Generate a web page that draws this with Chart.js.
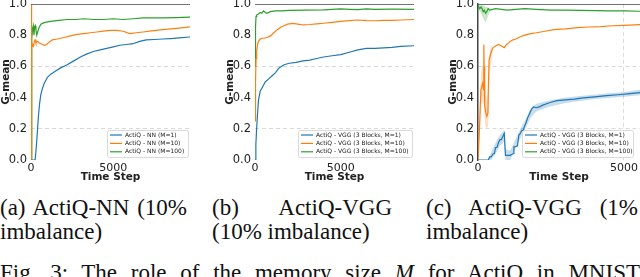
<!DOCTYPE html>
<html><head><meta charset="utf-8">
<script src="https://cdn.jsdelivr.net/npm/chart.js@4/dist/chart.umd.min.js"></script>
<style>
html,body{margin:0;padding:0;background:#fff;width:640px;height:277px;overflow:hidden;position:relative;}
.cv{position:absolute;}
.cap{position:absolute;font-family:"Liberation Serif","Times New Roman",serif;font-size:23px;line-height:24px;color:#111;text-align:justify;}
</style></head><body>
<div class="cv" style="left:0;top:-7px;width:195px;height:197px;"><canvas id="ca"></canvas></div>
<div class="cv" style="left:224px;top:-7px;width:195px;height:197px;"><canvas id="cb"></canvas></div>
<div class="cv" style="left:447px;top:-7px;width:193px;height:197px;"><canvas id="cc"></canvas></div>
<div class="cap" style="left:0;top:196px;width:187px;">(a) ActiQ-NN (10% imbalance)</div>
<div class="cap" style="left:212px;top:196px;width:180px;">(b) ActiQ-VGG (10% imbalance)</div>
<div class="cap" style="left:426px;top:196px;width:212px;">(c) ActiQ-VGG (1% imbalance)</div>
<div class="cap" style="left:0;top:261px;width:640px;white-space:nowrap;text-align:justify;text-align-last:justify;">Fig. 3: The role of the memory size <i>M</i> for ActiQ in MNIST</div>
<script>
// ---------- Panel (a): ActiQ-NN, 10% imbalance ----------
const aXmax = 9660;
const aBlueX = [0,250,320,400,450,520,600,700,800,1000,1200,1500,1800,2200,2600,3000,3400,3800,4200,4600,5000,5400,5800,6200,6600,7000,7500,8000,8500,9000,9660];
const aBlueY = [0,0,0.08,0.2,0.28,0.36,0.42,0.46,0.49,0.53,0.55,0.57,0.59,0.61,0.635,0.66,0.68,0.695,0.705,0.715,0.725,0.735,0.74,0.745,0.76,0.77,0.772,0.775,0.778,0.782,0.788];
const aOrangeX = [0,20,50,100,150,200,250,300,400,500,600,700,800,950,1100,1300,1600,2000,2400,2800,3200,3600,4000,4400,4800,5200,5600,6000,6400,6800,7200,7600,8000,8500,9000,9660];
const aOrangeY = [0,1.0,0.72,0.74,0.73,0.76,0.77,0.75,0.76,0.75,0.745,0.74,0.735,0.74,0.755,0.77,0.775,0.785,0.795,0.805,0.81,0.815,0.82,0.825,0.83,0.83,0.825,0.81,0.815,0.82,0.825,0.83,0.835,0.84,0.845,0.853];
const aGreenX = [0,30,60,100,140,180,220,260,300,350,400,500,600,700,800,1000,1300,1700,2200,2700,3200,3800,4400,5000,5600,6200,6800,7400,8000,8800,9660];
const aGreenY = [0,0.85,0.78,0.84,0.86,0.8,0.85,0.86,0.83,0.8,0.82,0.85,0.87,0.875,0.88,0.885,0.89,0.895,0.9,0.9,0.905,0.9,0.9,0.905,0.9,0.905,0.91,0.91,0.91,0.912,0.915];
const aLabels = ["ActiQ - NN (M=1)","ActiQ - NN (M=10)","ActiQ - NN (M=100)"];

// ---------- Panel (b): ActiQ-VGG, 10% imbalance ----------
const bXmax = 9277;
const bBlueX = [0,50,100,150,200,300,400,500,600,800,1000,1200,1400,1700,2000,2400,2800,3200,3600,4000,4500,5000,5500,6000,6500,7000,7500,8000,8500,9277];
const bBlueY = [0,0.1,0.21,0.3,0.38,0.44,0.46,0.48,0.5,0.52,0.54,0.56,0.59,0.61,0.62,0.625,0.635,0.64,0.65,0.66,0.668,0.675,0.69,0.705,0.715,0.715,0.718,0.722,0.728,0.732];
const bOrangeX = [0,30,60,100,150,200,300,400,500,700,900,1100,1300,1500,1700,1900,2200,2500,2800,3200,3600,4000,4500,5000,5500,6000,6500,7000,7500,8000,8500,9277];
const bOrangeY = [0.25,0.5,0.65,0.7,0.74,0.76,0.775,0.78,0.78,0.785,0.795,0.815,0.835,0.85,0.86,0.87,0.875,0.87,0.865,0.868,0.872,0.876,0.882,0.888,0.893,0.897,0.893,0.892,0.895,0.895,0.897,0.9];
const bGreenX = [0,30,60,100,200,300,400,500,600,700,900,1200,1600,2000,3000,4000,5000,5500,6000,6500,7000,8000,9277];
const bGreenY = [0.6,0.85,0.92,0.93,0.935,0.945,0.94,0.955,0.945,0.94,0.95,0.955,0.955,0.958,0.96,0.962,0.968,0.965,0.963,0.968,0.965,0.966,0.965];
const bLabels = ["ActiQ - VGG (3 Blocks, M=1)","ActiQ - VGG (3 Blocks, M=10)","ActiQ - VGG (3 Blocks, M=100)"];

// ---------- Panel (c): ActiQ-VGG, 1% imbalance ----------
const cXmax = 5550;
const cBlueX = [0,350,400,450,520,560,600,650,700,750,800,850,900,920,940,1000,1100,1200,1230,1280,1350,1400,1450,1500,1550,1600,1650,1700,1750,1800,1850,1900,2000,2100,2200,2350,2500,2700,3000,3300,3600,4000,4400,4800,5200,5550];
const cBlueY = [0,0,0.02,0.02,0.04,0.04,0.08,0.08,0.11,0.13,0.13,0.15,0.17,0.17,0.03,0.03,0.03,0.04,0.085,0.085,0.09,0.16,0.17,0.19,0.19,0.22,0.24,0.27,0.29,0.31,0.33,0.34,0.335,0.34,0.35,0.36,0.37,0.38,0.385,0.39,0.398,0.405,0.412,0.418,0.425,0.432];
const cBlueBandX = [350,450,600,750,900,940,1100,1230,1400,1600,1800,2000,2400,3000,4000,5000,5550];
const cBlueBandLo = [0,0,0.04,0.09,0.12,0.0,0.0,0.05,0.12,0.19,0.27,0.31,0.34,0.365,0.39,0.405,0.415];
const cBlueBandHi = [0,0.05,0.11,0.16,0.19,0.07,0.06,0.11,0.18,0.25,0.33,0.36,0.38,0.4,0.42,0.435,0.45];
const cOrangeX = [0,50,100,130,160,190,200,210,230,270,300,340,360,380,420,470,520,600,700,800,900,980,1050,1100,1200,1300,1450,1600,1800,2000,2300,2600,3000,3400,3800,4200,4600,5000,5550];
const cOrangeY = [0,0.2,0.45,0.47,0.49,0.45,0.74,0.6,0.35,0.3,0.28,0.3,0.5,0.64,0.67,0.7,0.72,0.73,0.74,0.73,0.72,0.74,0.75,0.76,0.77,0.775,0.79,0.8,0.81,0.815,0.825,0.835,0.84,0.848,0.852,0.855,0.86,0.862,0.867];
const cOrangeBandX = [50,100,150,200,250,300,350,400,450,500];
const cOrangeBandLo = [0.1,0.35,0.38,0.35,0.22,0.2,0.22,0.55,0.62,0.68];
const cOrangeBandHi = [0.3,0.55,0.6,0.6,0.45,0.38,0.45,0.7,0.72,0.74];
const cGreenX = [0,30,60,100,140,180,220,260,300,350,400,500,600,800,1000,1300,1600,2000,2500,3000,3500,4000,4500,5000,5550];
const cGreenY = [0.99,0.99,0.97,0.98,0.97,0.95,0.96,0.94,0.95,0.97,0.96,0.965,0.97,0.965,0.96,0.965,0.97,0.965,0.96,0.96,0.958,0.957,0.955,0.955,0.953];
const cGreenBandX = [0,100,200,260,300,400];
const cGreenBandLo = [0.97,0.94,0.9,0.88,0.9,0.95];
const cGreenBandHi = [1.0,1.0,0.99,0.98,0.98,0.97];
const cLabels = bLabels;

const yTicks = [0,0.2,0.4,0.6,0.8,1.0];
const xTicks = [0,5000];
const COLORS = ['#1f77b4','#ff7f0e','#2ca02c'];
const BANDS = ['rgba(31,119,180,0.25)','rgba(255,127,14,0.25)','rgba(44,160,44,0.25)'];

function pts(xs, ys){ return xs.map((x,i)=>({x:x,y:ys[i]})); }
function line(xs, ys, color){
  return {data:pts(xs,ys), borderColor:color, borderWidth:1.2, pointRadius:0, tension:0, fill:false};
}
function band(xs, lo, hi, color){
  return [
    {data:pts(xs,hi), borderWidth:0, pointRadius:0, fill:false, borderColor:'transparent'},
    {data:pts(xs,lo), borderWidth:0, pointRadius:0, fill:'-1', backgroundColor:color, borderColor:'transparent'}
  ];
}

const legendPlugin = {
  id:'boxLegend',
  afterDatasetsDraw(chart, args, opts){
    const ctx = chart.ctx, ca = chart.chartArea;
    const w = opts.width, h = 27;
    const x0 = ca.left + opts.left, y0 = ca.bottom - 3 - h;
    ctx.save();
    ctx.fillStyle='rgba(255,255,255,0.85)';
    ctx.strokeStyle='#d0d0d0'; ctx.lineWidth=0.8;
    ctx.beginPath(); ctx.roundRect(x0+0.5,y0+0.5,w,h,2); ctx.fill(); ctx.stroke();
    ctx.font='6px "DejaVu Sans"'; ctx.textBaseline='middle'; ctx.fillStyle='#222';
    opts.labels.forEach((lab,i)=>{
      const yy = y0 + 5 + i*8.4;
      ctx.strokeStyle=COLORS[i]; ctx.lineWidth=1.2;
      ctx.beginPath(); ctx.moveTo(x0+3,yy); ctx.lineTo(x0+15,yy); ctx.stroke();
      ctx.fillText(lab, x0+18, yy);
    });
    ctx.restore();
  }
};

function makeChart(id, xmax, series, bands, labels, legLeft, legWidth, isC){
  const datasets = [];
  bands.forEach(b=>datasets.push(...b));
  datasets.push(line([0,xmax],[1,1],'#444'));
  datasets[datasets.length-1].borderWidth = 1.5;
  series.forEach(s=>datasets.push(s));
  new Chart(document.getElementById(id), {
    type:'line',
    data:{datasets:datasets},
    plugins:[legendPlugin],
    options:{
      responsive:true, maintainAspectRatio:false, animation:false,
      layout:{padding:{top:0,right:isC?0:5,left:0,bottom:0}},
      plugins:{legend:{display:false}, tooltip:{enabled:false},
        boxLegend:{labels:labels, left:legLeft, width:legWidth}},
      scales:{
        x:{type:'linear', min:0, max:xmax,
          afterBuildTicks:(s)=>{s.ticks = xTicks.map(v=>({value:v}));},
          afterFit:(s)=>{s.height=30;},
          grid:{drawTicks:false, color:(c)=> (isC && c.tick && c.tick.value===5000) ? '#d0d0d0' : 'transparent', lineWidth:0.8},
          border:{display:false, dash:[4,3]},
          ticks:{padding:2, color:'#222', font:{family:'DejaVu Sans', size:11}, maxRotation:0, callback:(v)=>String(v)},
          title:{display:true, text:'Time Step', color:'#222', font:{family:'DejaVu Sans', size:10.5, weight:'bold'}, padding:{top:0,bottom:6}}
        },
        y:{min:0, max:1,
          afterBuildTicks:(s)=>{s.ticks = yTicks.map(v=>({value:v}));},
          afterFit:(s)=>{s.width=31;},
          grid:{drawTicks:false, color:(c)=> (c.tick && (Math.abs(c.tick.value-0.2)<1e-6 || Math.abs(c.tick.value-0.6)<1e-6)) ? '#cfcfcf' : 'transparent', lineWidth:0.8},
          border:{display:isC, color:'#444', width:1.5, dash:[4,3]},
          ticks:{padding:4, color:'#222', font:{family:'DejaVu Sans', size:11.5}, callback:(v)=>Number(v).toFixed(1)},
          title:{display:true, text:'G-mean', color:'#222', font:{family:'DejaVu Sans', size:10.5, weight:'bold', lineHeight:1.0}, padding:{top:1,bottom:0}}
        }
      }
    }
  });
}

makeChart('ca', aXmax,
  [line(aBlueX,aBlueY,COLORS[0]), line(aOrangeX,aOrangeY,COLORS[1]), line(aGreenX,aGreenY,COLORS[2])],
  [], aLabels, 76, 81, false);
makeChart('cb', bXmax,
  [line(bBlueX,bBlueY,COLORS[0]), line(bOrangeX,bOrangeY,COLORS[1]), line(bGreenX,bGreenY,COLORS[2])],
  [], bLabels, 43, 114, false);
makeChart('cc', cXmax,
  [line(cBlueX,cBlueY,COLORS[0]), line(cOrangeX,cOrangeY,COLORS[1]), line(cGreenX,cGreenY,COLORS[2])],
  [band(cBlueBandX,cBlueBandLo,cBlueBandHi,BANDS[0]), band(cOrangeBandX,cOrangeBandLo,cOrangeBandHi,BANDS[1]), band(cGreenBandX,cGreenBandLo,cGreenBandHi,BANDS[2])],
  cLabels, 44, 111, true);
</script>
</body></html>
